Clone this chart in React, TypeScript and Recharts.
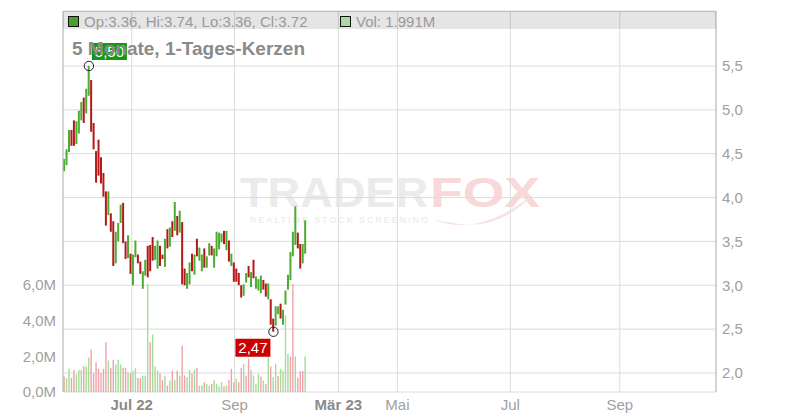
import { Bar, CartesianGrid, ComposedChart, ReferenceDot, XAxis, YAxis } from "recharts";

// daily candles, index 0 = first trading day shown
const highs = [
  4.44, 4.55, 4.77, 4.77, 4.88, 4.87, 4.99, 5.09, 5.14, 5.24,
  5.5, 5.34, 4.85, 4.53, 4.66, 4.46, 4.28, 4.07, 4.07, 3.82,
  3.73, 3.61, 3.71, 3.92, 3.94, 3.5, 3.57, 3.36, 3.35, 3.51,
  3.35, 3.27, 3.16, 3.29, 3.45, 3.46, 3.55, 3.45, 3.51, 3.45,
  3.35, 3.53, 3.64, 3.66, 3.73, 3.95, 3.79, 3.85, 3.72, 3.19,
  3.14, 3.26, 3.36, 3.35, 3.53, 3.43, 3.35, 3.42, 3.33, 3.48,
  3.45, 3.42, 3.61, 3.6, 3.59, 3.62, 3.62, 3.51, 3.36, 3.26,
  3.19, 3.14, 3.0, 3.01, 3.14, 3.22, 3.15, 3.29, 3.1, 3.07,
  3.11, 3.06, 3.02, 3.02, 2.84, 2.62, 2.76, 2.76, 2.79, 2.72,
  2.94, 3.12, 3.38, 3.61, 3.9, 3.6, 3.47, 3.47, 3.74,
];
const lows = [
  4.3, 4.37, 4.52, 4.59, 4.59, 4.61, 4.73, 4.88, 4.85, 4.96,
  5.16, 4.75, 4.55, 4.17, 4.25, 4.16, 4.01, 3.68, 3.8, 3.61,
  3.22, 3.25, 3.5, 3.71, 3.48, 3.3, 3.31, 3.13, 3.0, 3.32,
  3.25, 3.13, 2.96, 3.11, 3.09, 3.16, 3.28, 3.29, 3.19, 3.22,
  3.3, 3.21, 3.42, 3.44, 3.55, 3.62, 3.57, 3.6, 3.01, 3.0,
  2.96, 3.01, 3.16, 3.12, 3.33, 3.28, 3.16, 3.2, 3.2, 3.34,
  3.34, 3.2, 3.33, 3.41, 3.49, 3.47, 3.4, 3.27, 3.22, 3.04,
  3.04, 3.0, 2.86, 2.88, 3.03, 3.09, 2.98, 3.08, 2.96, 2.94,
  2.91, 2.95, 2.87, 2.84, 2.55, 2.47, 2.54, 2.67, 2.62, 2.55,
  2.78, 2.95, 3.06, 3.33, 3.46, 3.42, 3.19, 3.25, 3.36,
];
// G = up candle, R = down candle
const candleDirs =
  "GGGRRGGGRG" + "GRRRRRRRGR" + "RGGGRRGRGG" + "RRGGRRRGGR" + "RGRGRGRGRR" +
  "GGRGRGGRGG" + "RGGGGRGRGR" + "RRRGGRGRGG" + "GRRGRRGGRG" + "GGGGGRRGG";
// volume in millions
const volumes = [
  0.87, 0.77, 1.3, 0.79, 1.24, 0.98, 1.24, 1.24, 1.43, 1.43,
  1.92, 2.38, 1.05, 1.67, 1.3, 1.05, 1.3, 2.79, 1.76, 1.36,
  1.8, 1.54, 1.82, 1.54, 1.36, 1.36, 1.11, 1.05, 1.2, 1.33,
  0.79, 0.77, 0.92, 0.92, 6.06, 2.79, 3.22, 1.43, 1.2, 1.05,
  0.68, 0.92, 0.36, 0.64, 1.2, 0.68, 1.2, 0.92, 2.6, 0.92,
  0.83, 1.24, 1.05, 1.24, 1.36, 0.36, 0.36, 0.55, 0.46, 0.36,
  0.46, 0.68, 0.46, 0.31, 0.55, 0.31, 0.36, 0.68, 1.3, 0.55,
  0.74, 0.55, 1.36, 1.58, 0.92, 1.86, 1.24, 0.92, 0.46, 1.0,
  0.87, 0.64, 0.46, 2.04, 1.43, 0.83, 1.58, 0.89, 1.3, 1.2,
  4.29, 2.14, 1.99, 6.06, 1.99, 0.79, 1.17, 1.17, 1.99,
];
// G = green, R = red, N = neutral
const volDirs =
  "RGGRRGGGRG" + "GRRRRRRRGR" + "RGGGRRGRGG" + "RRGGGRGGGR" + "RGRGRGRGRR" +
  "GGRGRGGRGG" + "RGGGGRGRRR" + "GRRGRRNGGG" + "RGRGRGGRGG" + "GGRRGRRRG";

const lastOpen = 3.36;
const lastHigh = 3.74;
const lastLow = 3.36;
const lastClose = 3.72;
const lastVolume = "1.991M";

const xTicks = [27.4, 69.2, 111.4, 135.4, 181.3, 225.8];
const xLabels = ["Jul 22", "Sep", "Mär 23", "Mai", "Jul", "Sep"];
const priceTicks = [2, 2.5, 3, 3.5, 4, 4.5, 5, 5.5];
const volTicks = [0, 2e6, 4e6, 6e6];

const GREEN = "#4cab33";
const RED = "#b51818";
const VOL_GREEN = "#a6dc98";
const VOL_RED = "#f0a2aa";
const VOL_GRAY = "#bdbdbd";
const FONT = '"Liberation Sans", Arial, sans-serif';

const rows = highs.map((h, i) => ({
  i,
  range: [lows[i], h],
  up: candleDirs[i] === "G",
  vol: volumes[i] * 1e6,
  volDir: volDirs[i],
}));

const maxIdx = highs.indexOf(Math.max(...highs));
const minIdx = lows.indexOf(Math.min(...lows));

const fmt = (v: number, d: number) => v.toFixed(d).replace(".", ",");

function Candle(props: any) {
  const { x, y, width, height, payload } = props;
  if (x == null || y == null) return null;
  const cx = x + width / 2;
  const top = Math.min(y, y + height);
  return (
    <rect
      x={cx - 1}
      y={top}
      width={2}
      height={Math.max(Math.abs(height), 1)}
      fill={payload.up ? GREEN : RED}
    />
  );
}

function VolBar(props: any) {
  const { x, y, width, height, payload } = props;
  if (x == null || y == null) return null;
  const cx = x + width / 2;
  const fill =
    payload.volDir === "G" ? VOL_GREEN : payload.volDir === "R" ? VOL_RED : VOL_GRAY;
  return <rect x={cx - 0.7} y={y} width={1.4} height={Math.max(height, 0)} fill={fill} />;
}

function MaxMark(props: any) {
  const { cx, cy } = props;
  return (
    <g>
      <circle cx={cx} cy={cy} r={4.7} fill="none" stroke="#222" strokeWidth={1} />
      <rect x={cx + 3} y={cy - 23} width={35} height={17} fill="#139a13" />
      <text
        x={cx + 20.5}
        y={cy - 9}
        textAnchor="middle"
        fill="#fff"
        fontSize={15}
        fontFamily={FONT}
      >
        {fmt(highs[maxIdx], 2)}
      </text>
    </g>
  );
}

function MinMark(props: any) {
  const { cx, cy } = props;
  return (
    <g>
      <circle cx={cx} cy={cy} r={4.7} fill="none" stroke="#222" strokeWidth={1} />
      <rect x={cx - 38} y={cy + 7} width={35} height={18} fill="#cc0000" />
      <text
        x={cx - 20.5}
        y={cy + 21.5}
        textAnchor="middle"
        fill="#fff"
        fontSize={15}
        fontFamily={FONT}
      >
        {fmt(lows[minIdx], 2)}
      </text>
    </g>
  );
}

function DateTick(props: any) {
  const { x, payload } = props;
  const label = xLabels[xTicks.indexOf(payload.value)] ?? "";
  const bold = /\d/.test(label);
  return (
    <text
      x={x}
      y={410}
      textAnchor="middle"
      fontSize={15}
      fontFamily={FONT}
      fontWeight={bold ? "bold" : "normal"}
      fill={bold ? "#8a8a8a" : "#a0a0a0"}
    >
      {label}
    </text>
  );
}

function Watermark() {
  return (
    <svg
      width={800}
      height={420}
      style={{ position: "absolute", left: 0, top: 0 }}
    >
      <text
        x={240}
        y={207}
        fontSize={42}
        fontWeight="bold"
        fontFamily={FONT}
        fill="#ebebeb"
        textLength={188}
        lengthAdjust="spacingAndGlyphs"
      >
        TRADER
      </text>
      <text
        x={430}
        y={207}
        fontSize={42}
        fontWeight="bold"
        fontFamily={FONT}
        fill="#f8d8d8"
        textLength={110}
        lengthAdjust="spacingAndGlyphs"
      >
        FOX
      </text>
      <text
        x={250}
        y={223}
        fontSize={9}
        fontFamily={FONT}
        fill="#e8e8e8"
        textLength={178}
        lengthAdjust="spacing"
      >
        REALTIME STOCK SCREENING
      </text>
      <path d="M434 220 Q480 238 536 192 Q500 230 460 224 Z" fill="#fae2e2" />
    </svg>
  );
}

function Overlay() {
  return (
    <svg
      width={800}
      height={420}
      style={{ position: "absolute", left: 0, top: 0, pointerEvents: "none" }}
    >
      <rect x={63} y={11} width={653} height={18} fill="rgba(0,0,0,0.1)" />
      <line x1={63} y1={11.5} x2={716} y2={11.5} stroke="#bdbdbd" />
      <rect x={68.5} y={16.5} width={10} height={10} fill="#4aa12e" stroke="#111" />
      <text x={84} y={26.5} fontSize={15} fontFamily={FONT} fill="#9a9a9a">
        {`Op:${lastOpen.toFixed(2)}, Hi:${lastHigh.toFixed(2)}, Lo:${lastLow.toFixed(
          2
        )}, Cl:${lastClose.toFixed(2)}`}
      </text>
      <rect x={340.5} y={16.5} width={10} height={10} fill="#a9dba0" stroke="#111" />
      <text x={356} y={26.5} fontSize={15} fontFamily={FONT} fill="#9a9a9a">
        {`Vol: ${lastVolume}`}
      </text>
      <text
        x={72}
        y={55}
        fontSize={19}
        fontWeight="bold"
        fontFamily={FONT}
        fill="#8a8a8a"
      >
        5 Monate, 1-Tages-Kerzen
      </text>
    </svg>
  );
}

export default function App() {
  const xDomain = [-0.53, 264.9];
  return (
    <div
      style={{
        position: "absolute",
        left: 0,
        top: 0,
        width: 800,
        height: 420,
        background: "#fff",
        fontFamily: FONT,
      }}
    >
      <Watermark />
      <div style={{ position: "absolute", left: 0, top: 0 }}>
        <ComposedChart
          width={800}
          height={420}
          data={rows}
          margin={{ top: 11, right: 44, bottom: 8, left: 8 }}
        >
          <CartesianGrid xAxisId="x" yAxisId="price" stroke="#dcdcdc" strokeWidth={1} />
          <XAxis
            xAxisId="x"
            type="number"
            dataKey="i"
            domain={xDomain}
            ticks={xTicks}
            allowDataOverflow
            height={20}
            tick={<DateTick />}
            tickSize={4}
            tickMargin={3}
            axisLine={{ stroke: "#bbbbbb" }}
            tickLine={{ stroke: "#bbbbbb" }}
            interval={0}
          />
          <XAxis
            xAxisId="v"
            type="number"
            dataKey="i"
            domain={xDomain}
            allowDataOverflow
            hide
          />
          <YAxis
            yAxisId="vol"
            orientation="left"
            width={55}
            domain={[0, 21.34e6]}
            ticks={volTicks}
            allowDataOverflow
            interval={0}
            tickFormatter={(v: number) => `${fmt(v / 1e6, 1)}M`}
            tick={{ fill: "#a0a0a0", fontSize: 15, fontFamily: FONT }}
            tickLine={false}
            tickSize={5}
            axisLine={{ stroke: "#bbbbbb" }}
          />
          <YAxis
            yAxisId="price"
            orientation="right"
            width={40}
            domain={[1.783, 6.127]}
            ticks={priceTicks}
            allowDataOverflow
            interval={0}
            tickFormatter={(v: number) => fmt(v, 1)}
            tick={{ fill: "#a0a0a0", fontSize: 15, fontFamily: FONT }}
            tickLine={false}
            tickSize={4}
            axisLine={{ stroke: "#bbbbbb" }}
          />
          <Bar
            xAxisId="v"
            yAxisId="vol"
            dataKey="vol"
            barSize={2}
            shape={<VolBar />}
            isAnimationActive={false}
          />
          <Bar
            xAxisId="x"
            yAxisId="price"
            dataKey="range"
            barSize={2}
            shape={<Candle />}
            isAnimationActive={false}
          />
          <ReferenceDot
            xAxisId="x"
            yAxisId="price"
            x={maxIdx}
            y={highs[maxIdx]}
            r={5}
            shape={(p: any) => <MaxMark {...p} />}
          />
          <ReferenceDot
            xAxisId="x"
            yAxisId="price"
            x={minIdx}
            y={lows[minIdx]}
            r={5}
            shape={(p: any) => <MinMark {...p} />}
          />
        </ComposedChart>
      </div>
      <Overlay />
    </div>
  );
}
